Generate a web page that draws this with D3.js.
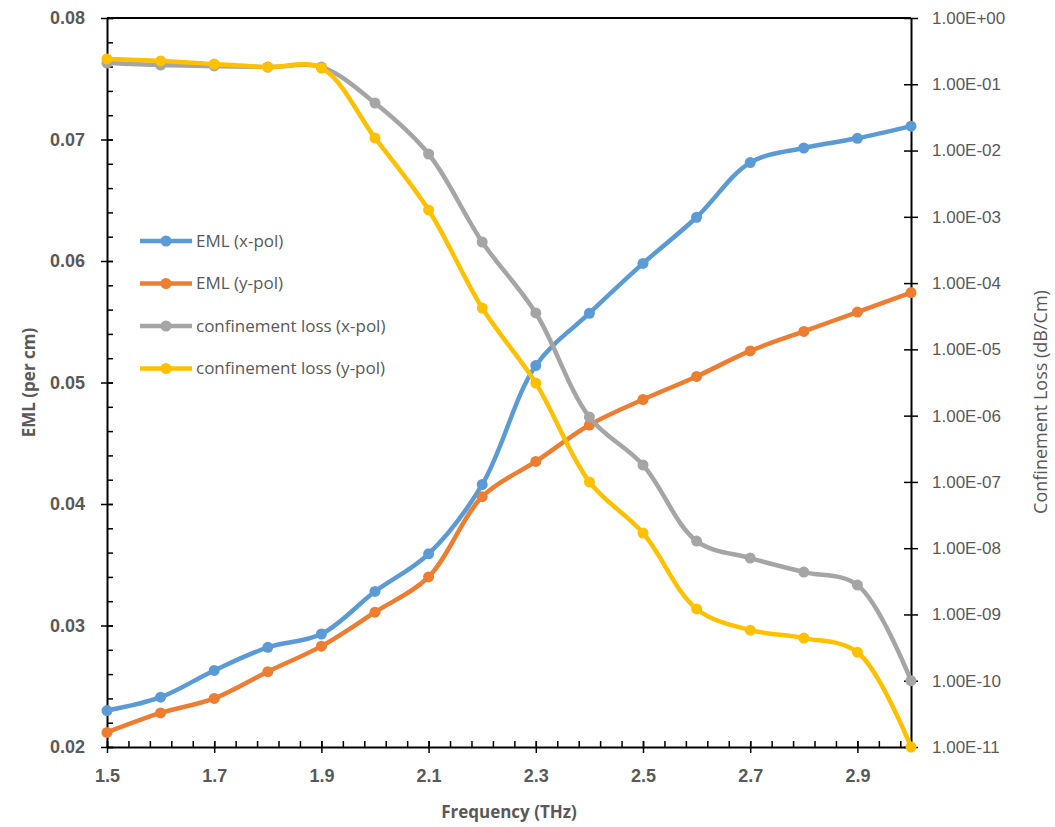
<!DOCTYPE html>
<html>
<head>
<meta charset="utf-8">
<script src="https://cdn.jsdelivr.net/npm/d3@7"></script>
<style>
  body { margin: 0; background: #fff; }
  svg { font-family: "Open Sans", sans-serif; }
  .tick text { fill: #595959; }
</style>
</head>
<body>
<div id="chart"></div>
<script>
// Frequency (THz)
const frequency = [1.5, 1.6, 1.7, 1.8, 1.9, 2.0, 2.1, 2.2, 2.3, 2.4, 2.5, 2.6, 2.7, 2.8, 2.9, 3.0];

// EML (per cm), left axis
const emlX = [0.0230, 0.0241, 0.0263, 0.0282, 0.0293, 0.0328, 0.0359, 0.0416, 0.0514, 0.0557, 0.0598, 0.0636, 0.0681, 0.0693, 0.0701, 0.0711];
const emlY = [0.0212, 0.0228, 0.0240, 0.0262, 0.0283, 0.0311, 0.0340, 0.0406, 0.0435, 0.0465, 0.0486, 0.0505, 0.0526, 0.0542, 0.0558, 0.0574];

// Confinement loss (dB/Cm), right axis (log)
const clX = [0.209, 0.195, 0.189, 0.182, 0.182, 0.0521, 0.00887, 4.17e-4, 3.54e-5, 9.5e-7, 1.8e-7, 1.28e-8, 7.1e-9, 4.36e-9, 2.78e-9, 1.0e-10];
const clY = [0.241, 0.225, 0.202, 0.182, 0.176, 0.0155, 1.27e-3, 4.2e-5, 3.1e-6, 1.0e-7, 1.69e-8, 1.21e-9, 5.8e-10, 4.4e-10, 2.7e-10, 1.0e-11];

const seriesNames = ["EML (x-pol)", "EML (y-pol)", "confinement loss (x-pol)", "confinement loss (y-pol)"];

// ticks
const xMajorTicks = [1.5, 1.7, 1.9, 2.1, 2.3, 2.5, 2.7, 2.9];
const leftTicks = [0.02, 0.03, 0.04, 0.05, 0.06, 0.07, 0.08];
const rightTicks = [1e-11, 1e-10, 1e-9, 1e-8, 1e-7, 1e-6, 1e-5, 1e-4, 1e-3, 1e-2, 1e-1, 1];

const colors = ["#5B9BD5", "#ED7D31", "#A5A5A5", "#FFC000"];

const width = 1055, height = 827;
const margin = { top: 18, right: 144, bottom: 80, left: 107 };
const innerW = width - margin.left - margin.right;
const innerH = height - margin.top - margin.bottom;

const svg = d3.select("#chart").append("svg")
    .attr("width", width)
    .attr("height", height);

const g = svg.append("g")
    .attr("transform", `translate(${margin.left},${margin.top})`);

// Scales
const xScale = d3.scaleLinear().domain([1.5, 3.0]).range([0, innerW]);
const yLeft = d3.scaleLinear().domain([0.02, 0.08]).range([innerH, 0]);
const yRight = d3.scaleLog().domain([1e-11, 1]).range([innerH, 0]);

// minor tick values (major / 5)
const xMinor = d3.range(0, 38).map(i => +(1.5 + i * 0.04).toFixed(2)).filter(v => v <= 3.0);
const leftMinor = d3.range(0, 31).map(i => +(0.02 + i * 0.002).toFixed(3));

// top border
g.append("line")
    .attr("x1", 0).attr("x2", innerW)
    .attr("y1", 0).attr("y2", 0)
    .attr("stroke", "#000").attr("stroke-width", 2);

// Minor ticks (inside)
g.append("g")
    .attr("transform", `translate(0,${innerH})`)
    .call(d3.axisTop(xScale).tickValues(xMinor).tickSize(6).tickFormat(""))
    .call(a => a.select(".domain").remove())
    .selectAll("line").attr("stroke", "#000").attr("stroke-width", 1.5);

g.append("g")
    .call(d3.axisRight(yLeft).tickValues(leftMinor).tickSize(6).tickFormat(""))
    .call(a => a.select(".domain").remove())
    .selectAll("line").attr("stroke", "#000").attr("stroke-width", 1.5);

// Major axes (ticks cross the axis line)
const xAxisG = g.append("g")
    .attr("transform", `translate(0,${innerH})`)
    .call(d3.axisBottom(xScale).tickValues(xMajorTicks).tickSizeOuter(0).tickSizeInner(6).tickPadding(16)
        .tickFormat(d3.format(".1f")));
xAxisG.selectAll(".tick line").attr("y1", -6);

const leftAxisG = g.append("g")
    .call(d3.axisLeft(yLeft).tickValues(leftTicks).tickSizeOuter(0).tickSizeInner(6).tickPadding(16)
        .tickFormat(d3.format(".2f")));
leftAxisG.selectAll(".tick line").attr("x1", 6);

const expFormat = v => {
    const e = Math.round(Math.log10(v));
    return "1.00E" + (e < 0 ? "-" : "+") + String(Math.abs(e)).padStart(2, "0");
};
const rightAxisG = g.append("g")
    .attr("transform", `translate(${innerW},0)`)
    .call(d3.axisRight(yRight).tickValues(rightTicks).tickSizeOuter(0).tickSizeInner(7).tickPadding(14)
        .tickFormat(expFormat));
rightAxisG.selectAll(".tick line").attr("x1", -7);

[xAxisG, leftAxisG, rightAxisG].forEach(a => {
    a.select(".domain").attr("stroke", "#000").attr("stroke-width", 2);
    a.selectAll(".tick line").attr("stroke", "#000").attr("stroke-width", 1.5);
    a.selectAll(".tick text").attr("font-size", 17).attr("fill", "#595959");
});
xAxisG.selectAll(".tick text").attr("font-weight", "bold").attr("font-size", 18);
leftAxisG.selectAll(".tick text").attr("font-weight", "bold").attr("font-size", 18);

// Axis titles
svg.append("text")
    .attr("x", margin.left + innerW / 2)
    .attr("y", 818)
    .attr("text-anchor", "middle")
    .attr("font-size", 17).attr("font-weight", "bold").attr("fill", "#595959")
    .text("Frequency (THz)");

svg.append("text")
    .attr("transform", `translate(35,${margin.top + innerH / 2}) rotate(-90)`)
    .attr("text-anchor", "middle")
    .attr("font-size", 17).attr("font-weight", "bold").attr("fill", "#595959")
    .text("EML (per cm)");

svg.append("text")
    .attr("transform", `translate(1047,402) rotate(-90)`)
    .attr("text-anchor", "middle")
    .attr("font-size", 18).attr("fill", "#595959")
    .text("Confinement Loss (dB/Cm)");

// Series
const series = [
    { name: seriesNames[0], values: emlX, y: yLeft, color: colors[0] },
    { name: seriesNames[1], values: emlY, y: yLeft, color: colors[1] },
    { name: seriesNames[2], values: clX, y: yRight, color: colors[2] },
    { name: seriesNames[3], values: clY, y: yRight, color: colors[3] }
];

series.forEach(s => {
    const pts = frequency.map((f, i) => [f, s.values[i]]);
    const line = d3.line()
        .x(d => xScale(d[0]))
        .y(d => s.y(d[1]))
        .curve(d3.curveCatmullRom.alpha(0.5));

    const sg = g.append("g");
    sg.append("path")
        .datum(pts)
        .attr("d", line)
        .attr("fill", "none")
        .attr("stroke", s.color)
        .attr("stroke-width", 4.5)
        .attr("stroke-linejoin", "round")
        .attr("stroke-linecap", "round");

    sg.selectAll("circle")
        .data(pts)
        .join("circle")
        .attr("cx", d => xScale(d[0]))
        .attr("cy", d => s.y(d[1]))
        .attr("r", 5.5)
        .attr("fill", s.color);
});

// Legend
const legend = svg.append("g").attr("transform", "translate(140,241)");
series.forEach((s, i) => {
    const item = legend.append("g").attr("transform", `translate(0,${i * 42.5})`);
    item.append("line")
        .attr("x1", 0).attr("x2", 52)
        .attr("stroke", s.color).attr("stroke-width", 4.5);
    item.append("circle")
        .attr("cx", 26).attr("r", 5.5).attr("fill", s.color);
    item.append("text")
        .attr("x", 56).attr("dy", "0.35em")
        .attr("font-size", 17).attr("fill", "#595959")
        .text(s.name);
});
</script>
</body>
</html>
